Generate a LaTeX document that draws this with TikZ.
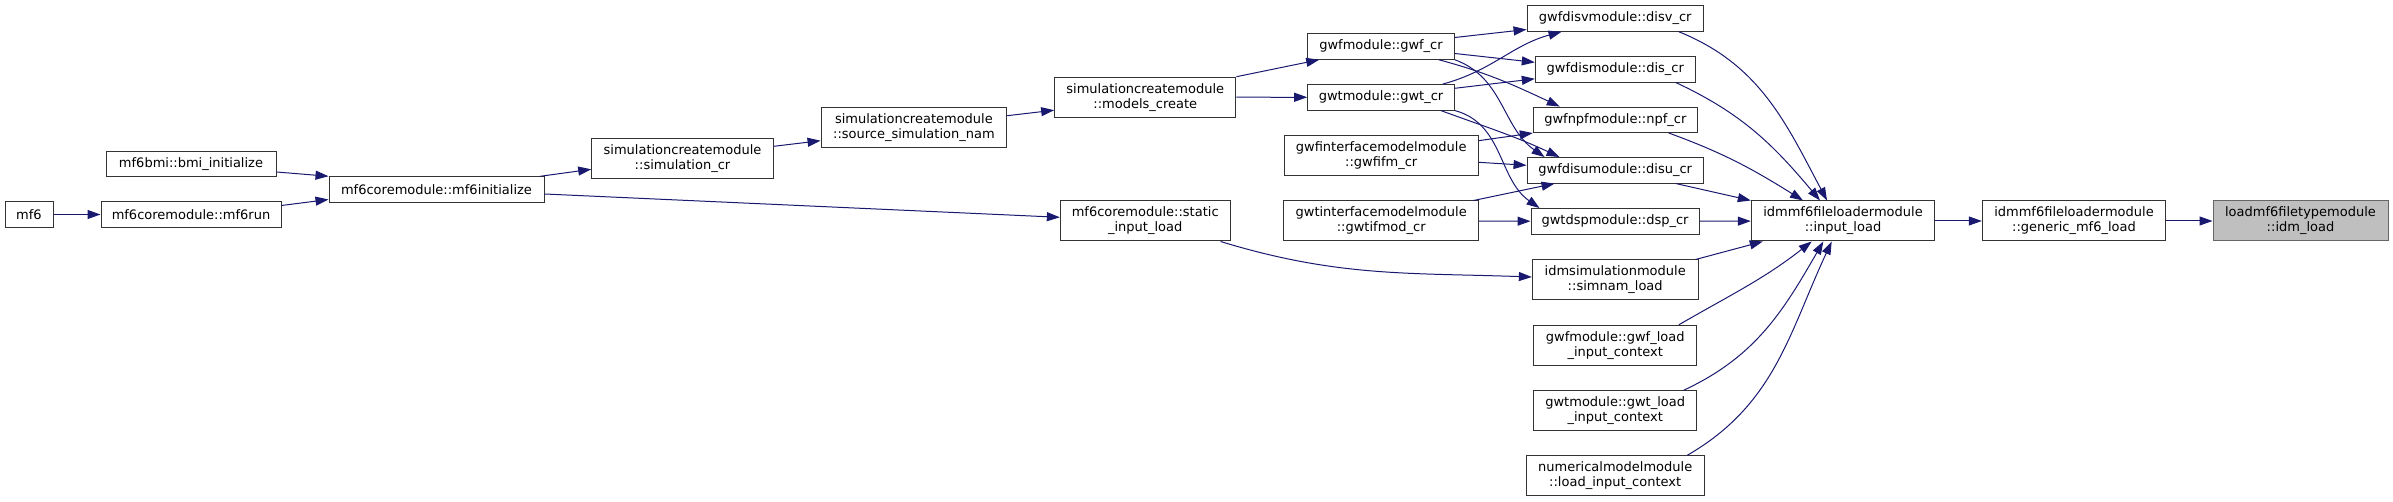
\documentclass[tikz,border=0pt]{standalone}
\usepackage{fontspec}
\setmainfont{DejaVu Sans}
\usetikzlibrary{arrows.meta}
\definecolor{edgeblue}{HTML}{191970}
\definecolor{boxline}{HTML}{333333}
\definecolor{hilite}{HTML}{BFBFBF}
\definecolor{hiliteline}{HTML}{666666}

\begin{document}
\begin{tikzpicture}[x=1pt, y=-1pt,
    fn/.style={draw=boxline, line width=1pt, fill=white, inner sep=0pt,
        minimum height=25.5pt, align=center, font=\fontsize{13}{15}\selectfont},
    fntwo/.style={fn, minimum height=40pt},
    call/.style={edgeblue, line width=1pt, -{Triangle[length=13pt,width=9pt]}}]
    \useasboundingbox (0,0) rectangle (2393,502);

    % 入口
    \node[fn, minimum width=48pt] (mf6) at (29,214.5) {mf6};
    \node[fn, minimum width=180pt] (mf6run) at (191,214.5) {mf6coremodule::mf6run};
    \node[fn, minimum width=170pt] (bmiinit) at (191,164) {mf6bmi::bmi\_initialize};
    \node[fn, minimum width=215pt] (mf6init) at (436.5,189.5) {mf6coremodule::mf6initialize};

    % 模拟创建
    \node[fntwo, minimum width=181.6pt] (simcr) at (682.5,158.3) {simulationcreatemodule\\::simulation\_cr};
    \node[fntwo, minimum width=185.7pt] (srcnam) at (913.9,127.7) {simulationcreatemodule\\::source\_simulation\_nam};
    \node[fntwo, minimum width=181.3pt] (modcr) at (1145.3,97.2) {simulationcreatemodule\\::models\_create};
    \node[fntwo, minimum width=169.7pt] (staticload) at (1145.2,221) {mf6coremodule::static\\\_input\_load};

    % 模型
    \node[fn, minimum width=146.6pt] (gwfcr) at (1381,46.5) {gwfmodule::gwf\_cr};
    \node[fn, minimum width=146.6pt] (gwtcr) at (1381,97.3) {gwtmodule::gwt\_cr};
    \node[fntwo, minimum width=193.7pt] (gwfifm) at (1381.2,155.7) {gwfinterfacemodelmodule\\::gwfifm\_cr};
    \node[fntwo, minimum width=195pt] (gwtifmod) at (1381.2,221) {gwtinterfacemodelmodule\\::gwtifmod\_cr};

    % 程序包
    \node[fn, minimum width=176.3pt] (disvcr) at (1615.2,18.5) {gwfdisvmodule::disv\_cr};
    \node[fn, minimum width=160pt] (discr) at (1615.3,69.3) {gwfdismodule::dis\_cr};
    \node[fn, minimum width=164pt] (npfcr) at (1615.3,119.8) {gwfnpfmodule::npf\_cr};
    \node[fn, minimum width=176.3pt] (disucr) at (1615.2,170.3) {gwfdisumodule::disu\_cr};
    \node[fn, minimum width=168pt] (dspcr) at (1615,221.3) {gwtdspmodule::dsp\_cr};
    \node[fntwo, minimum width=165.7pt] (simnam) at (1615.2,280) {idmsimulationmodule\\::simnam\_load};
    \node[fntwo, minimum width=163pt] (gwfload) at (1615.2,345.3) {gwfmodule::gwf\_load\\\_input\_context};
    \node[fntwo, minimum width=163pt] (gwtload) at (1615.2,410.7) {gwtmodule::gwt\_load\\\_input\_context};
    \node[fntwo, minimum width=177.7pt] (numload) at (1615.2,475.8) {numericalmodelmodule\\::load\_input\_context};

    % 输入读取
    \node[fntwo, minimum width=183.4pt] (inload) at (1843,221) {idmmf6fileloadermodule\\::input\_load};
    \node[fntwo, minimum width=183.4pt] (generic) at (2074,221) {idmmf6fileloadermodule\\::generic\_mf6\_load};
    \node[fntwo, minimum width=175pt, fill=hilite, draw=hiliteline] (idmload) at (2300.5,221) {loadmf6filetypemodule\\::idm\_load};

    % 水平调用
    \foreach \a/\b in {mf6/mf6run, modcr/gwtcr, gwtifmod/dspcr, dspcr/inload, inload/generic, generic/idmload}
        \draw[call] (\a) -- (\b);

    % 左侧调用
    \draw[call] ([yshift=-8pt]bmiinit.east) -- (mf6init.north west);
    \draw[call] ([yshift=9pt]mf6run.east) -- ([yshift=-10pt]mf6init.west);
    \draw[call] ([xshift=-4pt]mf6init.north east) -- ([yshift=-11pt]simcr.west);
    \draw[call] ([yshift=-4.5pt]mf6init.east) -- ([yshift=3.7pt]staticload.west);
    \draw[call] ([yshift=12pt]simcr.east) -- ([yshift=-13pt]srcnam.west);
    \draw[call] ([yshift=12pt]srcnam.east) -- ([yshift=-13pt]modcr.west);
    \draw[call] (modcr.north east) -- ([xshift=12pt]gwfcr.south west);

    % 模型 -> 程序包
    \draw[call] ([yshift=9pt]gwfcr.east) -- ([yshift=-11pt]disvcr.west);
    \draw[call] ([yshift=-7pt]gwfcr.east) -- ([yshift=7pt]discr.west);
    \draw[call] ([yshift=9pt]gwtcr.east) -- ([yshift=-9.5pt]discr.west);
    \draw[call] ([xshift=-12pt]gwtcr.north east) to[out=15,in=195] ([xshift=35pt]disvcr.south west);
    \draw[call] ([xshift=-16pt]gwfcr.south east) to[out=-15,in=155] ([xshift=27pt]npfcr.north west);
    \draw[call] (gwfcr.south east) to[out=-20,in=145] ([xshift=18pt]disucr.north west);
    \draw[call] ([xshift=-14pt]gwtcr.south east) to[out=-20,in=155] ([xshift=33pt]disucr.north west);
    \draw[call] (gwtcr.south east) to[out=-15,in=145] ([xshift=9pt]dspcr.north west);
    \draw[call] ([yshift=15pt]gwfifm.east) -- (npfcr.south west);
    \draw[call] ([yshift=-6.6pt]gwfifm.east) -- ([yshift=5pt]disucr.west);
    \draw[call] ([xshift=-5.7pt]gwtifmod.north east) -- ([xshift=28pt]disucr.south west);
    \draw[call] ([xshift=-10pt]staticload.south east) to[out=-17,in=178] ([yshift=3pt]simnam.west);

    % 汇入 input_load
    \draw[call] ([xshift=-25pt]disvcr.south east) to[out=-22,in=118] ([xshift=-16pt]inload.north);
    \draw[call] ([xshift=-20pt]discr.south east) to[out=-25,in=130] ([xshift=-23pt]inload.north);
    \draw[call] ([xshift=-29pt]npfcr.south east) to[out=-20,in=148] ([xshift=-40pt]inload.north);
    \draw[call] ([xshift=-28pt]disucr.south east) -- (inload.north west);
    \draw[call] ([xshift=-3pt]simnam.north east) -- ([xshift=12pt]inload.south west);
    \draw[call] ([xshift=-18.4pt]gwfload.north east) to[out=30,in=218] ([xshift=-31.3pt]inload.south);
    \draw[call] ([xshift=-13.4pt]gwtload.north east) to[out=25,in=240] ([xshift=-19.7pt]inload.south);
    \draw[call] ([xshift=-17.3pt]numload.north east) to[out=30,in=245] ([xshift=-11.3pt]inload.south);
\end{tikzpicture}
\end{document}
